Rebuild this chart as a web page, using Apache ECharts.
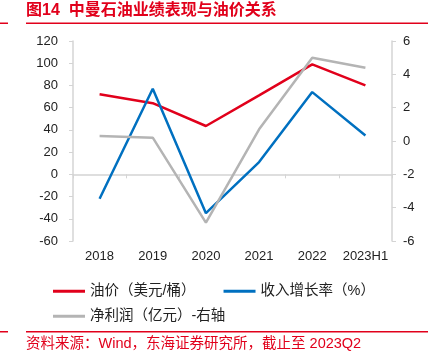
<!DOCTYPE html>
<html><head><meta charset="utf-8">
<script src="https://cdn.jsdelivr.net/npm/echarts@6/dist/echarts.min.js"></script>
<style>html,body{margin:0;padding:0;background:#fff}#c{width:436px;height:354px}</style>
</head><body><div id="c"></div>
<script>
const categories = ['2018','2019','2020','2021','2022','2023H1'];
const oilPrice = [72, 64, 43.5, 71, 99, 80];
const revenueGrowth = [-22, 77, -35, 11, 74, 35];
const netProfit = [0.3, 0.2, -4.9, 0.7, 5.0, 4.4];
const leftTicks = {min: -60, max: 120, interval: 20};
const rightTicks = {min: -6, max: 6, interval: 2};
const names = ['油价（美元/桶）', '收入增长率（%）', '净利润（亿元）-右轴'];

const RED = '#E1001B', BLUE = '#0070C0', GRAY = '#B4B4B4', AX = '#D4D4D4';
const FF = 'Liberation Sans, Arial, Noto Sans CJK SC, sans-serif';
const chart = echarts.init(document.getElementById('c'));
chart.setOption({
  animation: false,
  textStyle: {fontFamily: FF},
  grid: {left: 73, right: 44, top: 41, bottom: 113},
  graphic: [
    {type: 'text', left: 26, top: 3, style: {text: '图14  中曼石油业绩表现与油价关系', fill: RED, font: 'bold 16px ' + FF}},
    {type: 'rect', shape: {x: 0, y: 22.5, width: 8, height: 1.5}, style: {fill: RED}},
    {type: 'rect', shape: {x: 26, y: 22.5, width: 402, height: 1.5}, style: {fill: RED}},
    {type: 'rect', shape: {x: 0, y: 331, width: 8, height: 1.5}, style: {fill: RED}},
    {type: 'rect', shape: {x: 26, y: 331, width: 402, height: 1.5}, style: {fill: RED}},
    {type: 'text', left: 26, top: 337, style: {text: '资料来源：Wind，东海证券研究所，截止至 2023Q2', fill: RED, font: '14.5px ' + FF}}
  ],
  legend: [
    {data: [names[0], names[1]], left: 48, top: 279, itemWidth: 32, itemHeight: 3, itemGap: 28, icon: 'rect',
     textStyle: {fontSize: 14.5, color: '#222', fontFamily: FF}},
    {data: [names[2]], left: 48, top: 304, itemWidth: 32, itemHeight: 3, icon: 'rect',
     textStyle: {fontSize: 14.5, color: '#222', fontFamily: FF}}
  ],
  xAxis: [
    {type: 'category', data: categories, position: 'bottom', axisLine: {show: false, onZero: false}, axisTick: {show: false},
     axisLabel: {color: '#222', fontSize: 13, margin: 9, interval: 0}},
    {type: 'category', data: categories, position: 'bottom', axisLine: {show: true, onZero: true, onZeroAxisIndex: 0, lineStyle: {color: AX, width: 1.5}},
     axisTick: {show: true, length: 4, interval: 0, lineStyle: {color: AX}}, axisLabel: {show: false}}
  ],
  yAxis: [
    {type: 'value', min: leftTicks.min, max: leftTicks.max, interval: leftTicks.interval, splitLine: {show: false},
     axisLine: {show: true, lineStyle: {color: AX, width: 1.5}}, axisTick: {show: true, length: 4, lineStyle: {color: AX}},
     axisLabel: {color: '#222', fontSize: 13, margin: 15}},
    {type: 'value', position: 'right', min: rightTicks.min, max: rightTicks.max, interval: rightTicks.interval, splitLine: {show: false},
     axisLine: {show: true, lineStyle: {color: AX, width: 1.5}}, axisTick: {show: true, length: 4, lineStyle: {color: AX}},
     axisLabel: {color: '#222', fontSize: 13, margin: 11}}
  ],
  series: [
    {name: names[0], type: 'line', data: oilPrice, yAxisIndex: 0, symbol: 'none', lineStyle: {color: RED, width: 2.5}, itemStyle: {color: RED}},
    {name: names[1], type: 'line', data: revenueGrowth, yAxisIndex: 0, symbol: 'none', lineStyle: {color: BLUE, width: 2.5}, itemStyle: {color: BLUE}},
    {name: names[2], type: 'line', data: netProfit, yAxisIndex: 1, symbol: 'none', lineStyle: {color: GRAY, width: 2.5}, itemStyle: {color: GRAY}}
  ]
});
</script></body></html>
